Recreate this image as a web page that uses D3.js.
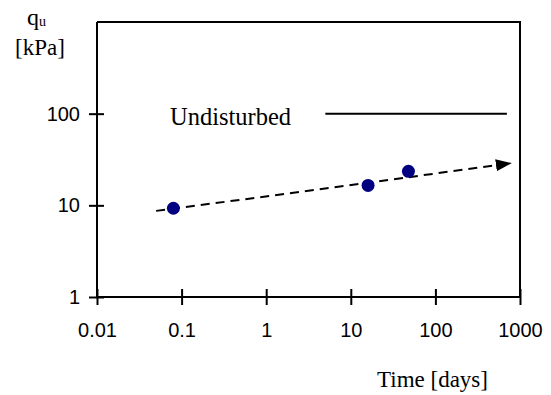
<!DOCTYPE html>
<html>
<head>
<meta charset="utf-8">
<script src="https://cdn.jsdelivr.net/npm/d3@7"></script>
<style>
  body { margin: 0; background: #fff; }
  .tick text { font-family: "Liberation Sans", Arial, sans-serif; font-size: 20px; fill: #000; }
  .serif { font-family: "Liberation Serif", "Times New Roman", serif; fill: #000; }
</style>
</head>
<body>
<svg id="chart" width="551" height="395"></svg>
<script>
// measured points (time in days, qu in kPa)
var times = [0.08, 16, 48];
var qu = [9.3, 16.5, 23.5];

// dashed trend with arrow
var trendT = [0.05, 3, 780];
var trendQ = [8.7, 14.3, 28.8];

// undisturbed level
var undisturbedQ = 100;
var undisturbedT = [5, 700];

var xTicks = [0.01, 0.1, 1, 10, 100, 1000];
var yTicks = [1, 10, 100];

var svg = d3.select('#chart'),
  pLeft = 97, pRight = 520, pTop = 22, pBottom = 297;

var x = d3.scaleLog().domain([0.01, 1000]).range([pLeft, pRight]);
var y = d3.scaleLog().domain([1, 1000]).range([pBottom, pTop]);

svg.append('defs').append('marker')
  .attr('id', 'arrow')
  .attr('viewBox', '0 0 16 12')
  .attr('refX', 15).attr('refY', 6)
  .attr('markerUnits', 'userSpaceOnUse')
  .attr('markerWidth', 16).attr('markerHeight', 12)
  .attr('orient', 'auto')
  .append('path').attr('d', 'M0,0L16,6L0,12Z').attr('fill', '#000');

// plot box (top and right)
svg.append('path')
  .attr('d', 'M' + pLeft + ',' + pTop + 'H' + pRight + 'V' + pBottom)
  .attr('fill', 'none').attr('stroke', '#000').attr('stroke-width', 2);

// x axis with crossing ticks
var xAxis = svg.append('g')
  .attr('transform', 'translate(0,' + pBottom + ')')
  .call(d3.axisBottom(x).tickValues(xTicks).tickSize(8).tickPadding(18)
    .tickFormat(d => d < 1 ? String(d) : d3.format('d')(d)));
xAxis.selectAll('.tick line').attr('y1', -8).attr('stroke-width', 2);
xAxis.select('.domain').attr('stroke-width', 2).attr('d', 'M' + pLeft + ',0H' + pRight);

// y axis with crossing ticks
var yAxis = svg.append('g')
  .attr('transform', 'translate(' + pLeft + ',0)')
  .call(d3.axisLeft(y).tickValues(yTicks).tickSize(8).tickPadding(9)
    .tickFormat(d3.format('d')));
yAxis.selectAll('.tick line').attr('x2', 7).attr('x1', -8).attr('stroke-width', 2);
yAxis.select('.domain').attr('stroke-width', 2).attr('d', 'M0,' + pTop + 'V' + pBottom);

// undisturbed reference line
svg.append('line')
  .attr('x1', x(undisturbedT[0])).attr('x2', x(undisturbedT[1]))
  .attr('y1', y(undisturbedQ)).attr('y2', y(undisturbedQ))
  .attr('stroke', '#000').attr('stroke-width', 2);

svg.append('text').attr('class', 'serif')
  .attr('x', 170).attr('y', y(undisturbedQ) + 11)
  .style('font-size', '24.5px')
  .text('Undisturbed');

// trend line
var line = d3.line().x(d => x(d[0])).y(d => y(d[1]));
svg.append('path')
  .attr('d', line(d3.zip(trendT, trendQ)))
  .attr('fill', 'none').attr('stroke', '#000').attr('stroke-width', 2)
  .attr('stroke-dasharray', '9,6')
  .attr('marker-end', 'url(#arrow)');

// data points
svg.selectAll('.pt')
  .data(d3.zip(times, qu))
  .enter().append('circle')
  .attr('class', 'pt')
  .attr('cx', d => x(d[0])).attr('cy', d => y(d[1]))
  .attr('r', 6.5)
  .attr('fill', '#000080');

// axis titles
var yt = svg.append('text').attr('class', 'serif')
  .attr('x', 27).attr('y', 25).style('font-size', '24px');
yt.append('tspan').text('q');
yt.append('tspan').attr('dy', 1).style('font-size', '14px').text('u');

svg.append('text').attr('class', 'serif')
  .attr('x', 15).attr('y', 55).style('font-size', '23px')
  .text('[kPa]');

svg.append('text').attr('class', 'serif')
  .attr('x', 377).attr('y', 387).style('font-size', '23px')
  .text('Time [days]');
</script>
</body>
</html>
